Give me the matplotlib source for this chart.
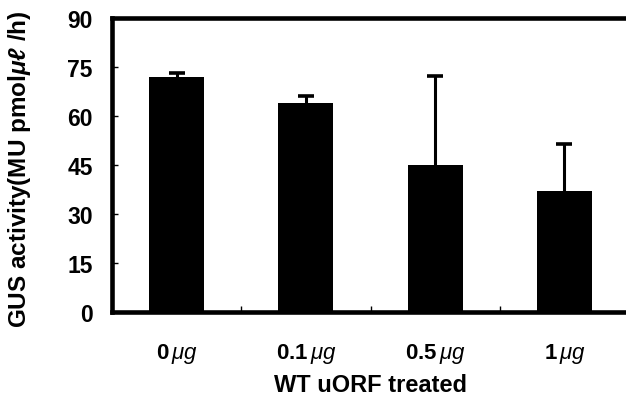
import matplotlib.pyplot as plt

plt.rcParams["font.family"] = ["Liberation Sans", "DejaVu Sans"]
plt.rcParams["mathtext.fontset"] = "custom"
plt.rcParams["mathtext.it"] = "Liberation Sans:italic"
plt.rcParams["mathtext.bfit"] = "Liberation Sans:italic:bold"
plt.rcParams["mathtext.rm"] = "Liberation Sans"

# data
doses = ["0", "0.1", "0.5", "1"]
gus_mean = [71.8, 64.0, 45.1, 36.9]
gus_err = [1.4, 2.2, 27.0, 14.4]
y_ticks = [0, 15, 30, 45, 60, 75, 90]


def main() -> None:
    fig = plt.figure(figsize=(6.26, 4.10), dpi=100)
    ax = fig.add_axes([0.179, 0.2366, 0.826, 0.7171])

    x = list(range(len(doses)))
    ax.bar(x, gus_mean, width=0.425, color="black", zorder=2)
    _, caps, _ = ax.errorbar(
        x, gus_mean, yerr=[[0] * len(gus_err), gus_err],
        fmt="none", ecolor="black", elinewidth=2.2,
        capsize=6, capthick=2.6, zorder=3,
    )
    caps[0].set_visible(False)  # only the upper cap is drawn

    ax.set_xlim(-0.5, 3.5)
    ax.set_ylim(0, 90)
    ax.set_yticks(y_ticks)
    ax.set_xticks(x)
    ax.set_xticklabels([d + r"$\,\mathit{\mu g}$" for d in doses],
                       fontsize=16, fontweight="bold")
    ax.set_xticks([0.5, 1.5, 2.5], minor=True)
    ax.tick_params(axis="x", which="major", length=0, pad=21)
    ax.tick_params(axis="x", which="minor", direction="in", length=4, width=1)
    ax.tick_params(axis="y", direction="in", length=4, width=1, pad=14,
                   labelsize=16.5)
    for lab in ax.get_yticklabels():
        lab.set_fontweight("bold")

    for side in ("left", "top", "bottom"):
        ax.spines[side].set_linewidth(3.3)
    ax.spines["right"].set_visible(False)

    ax.set_xlabel("WT uORF treated", fontsize=17, fontweight="bold", labelpad=6)
    ax.set_ylabel(r"GUS activity(MU pmol$\mathbfit{\mu\ell}$ /h)",
                  fontsize=17.5, fontweight="bold")
    ax.yaxis.set_label_coords(-0.153, 0.49)

    fig.savefig("out.png", dpi=100)
    plt.close(fig)


if __name__ == "__main__":
    main()
